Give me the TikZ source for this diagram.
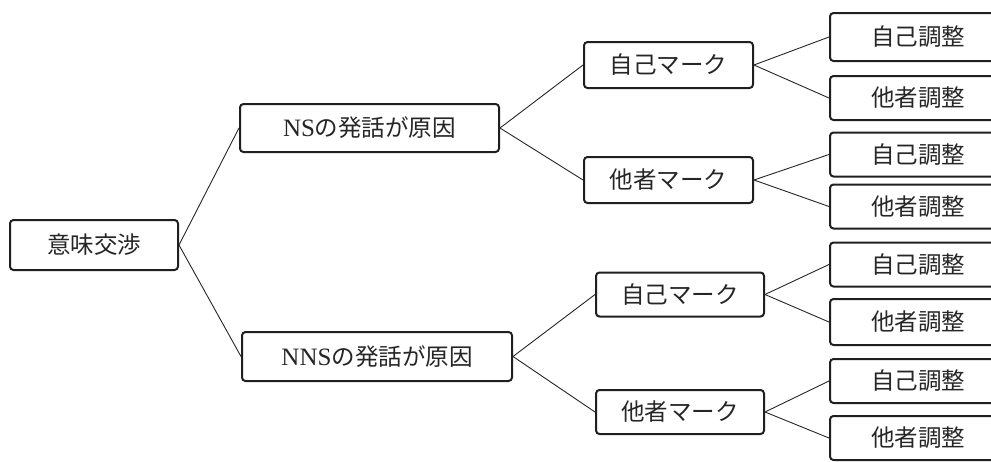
\documentclass[tikz,border=0pt]{standalone}
\usepackage{fontspec}
\setmainfont{Liberation Serif}
\newfontfamily\jp{Noto Sans CJK JP}
\newfontfamily\lat{Liberation Serif}
\begin{document}
\begin{tikzpicture}[x=1pt,y=-1pt,
  box/.style={draw=black!88, line width=2pt, rounded corners=3.5pt, fill=white,
    inner sep=0pt, font=\jp\fontsize{23.5}{23.5}\selectfont, text=black!85},
  link/.style={draw=black!85, line width=0.9pt}]
\useasboundingbox (0,0) rectangle (991,461);
\node[box, minimum width=168pt, minimum height=50pt] (root) at (94,245) {意味交渉};
\node[box, minimum width=259pt, minimum height=48pt] (ns) at (369.5,128) {{\lat\fontsize{25}{25}\selectfont NS}の発話が原因};
\node[box, minimum width=270pt, minimum height=49pt] (nns) at (377,356.5) {{\lat\fontsize{25}{25}\selectfont NNS}の発話が原因};
\node[box, minimum width=169pt, minimum height=46pt] (m1) at (668.5,65) {自己マーク};
\node[box, minimum width=169pt, minimum height=46pt] (m2) at (668.5,180) {他者マーク};
\node[box, minimum width=168pt, minimum height=44pt] (m3) at (680,294.5) {自己マーク};
\node[box, minimum width=168pt, minimum height=44pt] (m4) at (680,412) {他者マーク};
\node[box, minimum width=176pt, minimum height=48pt] (r1) at (918,37) {自己調整};
\node[box, minimum width=176pt, minimum height=44pt] (r2) at (918,98) {他者調整};
\node[box, minimum width=176pt, minimum height=44pt] (r3) at (918,154.5) {自己調整};
\node[box, minimum width=176pt, minimum height=44pt] (r4) at (918,206.5) {他者調整};
\node[box, minimum width=176pt, minimum height=44pt] (r5) at (918,264.5) {自己調整};
\node[box, minimum width=176pt, minimum height=46pt] (r6) at (918,322) {他者調整};
\node[box, minimum width=176pt, minimum height=44pt] (r7) at (918,381) {自己調整};
\node[box, minimum width=176pt, minimum height=44pt] (r8) at (918,438) {他者調整};
\draw[link] (root.east) -- (ns.west);
\draw[link] (root.east) -- (nns.west);
\draw[link] (ns.east) -- (m1.west);
\draw[link] (ns.east) -- (m2.west);
\draw[link] (nns.east) -- (m3.west);
\draw[link] (nns.east) -- (m4.west);
\draw[link] (m1.east) -- (r1.west);
\draw[link] (m1.east) -- (r2.west);
\draw[link] (m2.east) -- (r3.west);
\draw[link] (m2.east) -- (r4.west);
\draw[link] (m3.east) -- (r5.west);
\draw[link] (m3.east) -- (r6.west);
\draw[link] (m4.east) -- (r7.west);
\draw[link] (m4.east) -- (r8.west);
\end{tikzpicture}
\end{document}
